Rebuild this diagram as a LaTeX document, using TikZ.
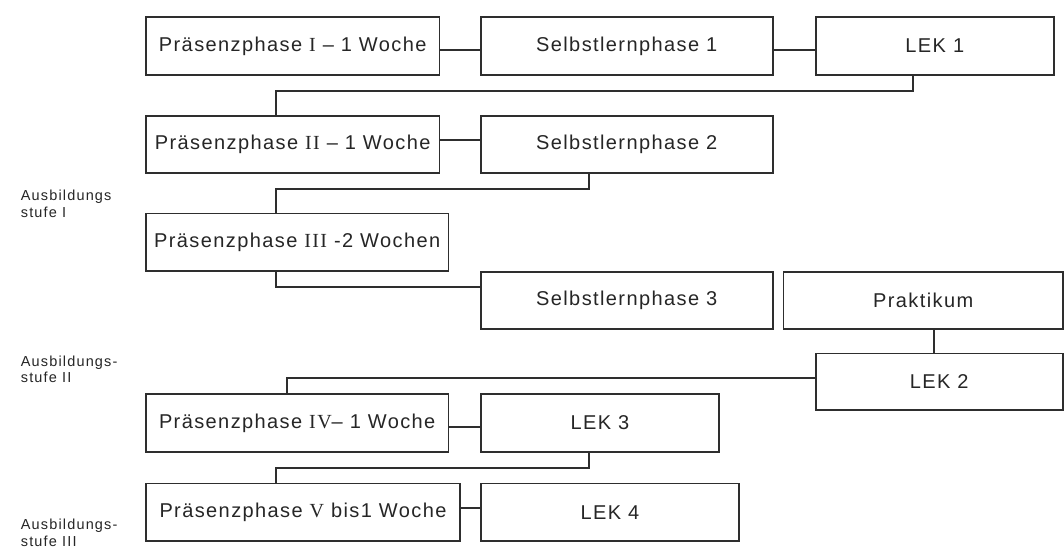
\documentclass[tikz,border=0pt]{standalone}
\usepackage{fontspec}
\setmainfont{Liberation Sans}
\newfontfamily\boxfont[LetterSpace=7]{Liberation Sans}
\newfontfamily\romfont[LetterSpace=7]{Liberation Serif}
\newfontfamily\lblfont[LetterSpace=8]{Liberation Sans}
\begin{document}
\begin{tikzpicture}[x=1pt,y=-1pt,
  box/.style={draw=black!82, line width=1.7pt, rectangle, inner sep=0pt, minimum height=57.5pt,
    font=\boxfont\fontsize{20}{24}\selectfont, text=black!85},
  conn/.style={draw=black!82, line width=1.7pt},
  lbl/.style={font=\lblfont\fontsize{14.5}{16.5}\selectfont, align=left, anchor=north west, inner sep=0pt, text=black!85}]
\fill[white] (0,0) rectangle (1064,554);
\useasboundingbox (0,0) rectangle (1064,554);

% boxes
\node[box, minimum width=293.3pt] (P1) at (292.7,46) {Präsenzphase {\romfont I} – 1 Woche};
\node[box, minimum width=292pt] (S1) at (626.7,46) {Selbstlernphase 1};
\node[box, minimum width=238.3pt] (L1) at (934.8,46) {LEK 1};
\node[box, minimum width=293.3pt] (P2) at (292.7,144.5) {Präsenzphase {\romfont II} – 1 Woche};
\node[box, minimum width=292pt] (S2) at (626.7,144.5) {Selbstlernphase 2};
\node[box, minimum width=302.3pt] (P3) at (297.2,242.2) {Präsenzphase {\romfont III} -2 Wochen};
\node[box, minimum width=292pt] (S3) at (626.7,300.4) {Selbstlernphase 3};
\node[box, minimum width=279.7pt] (PR) at (923.2,300.4) {Praktikum};
\node[box, minimum width=247pt, minimum height=56.7pt] (L2) at (939.2,381.7) {LEK 2};
\node[box, minimum width=302.3pt] (P4) at (297.2,423) {Präsenzphase {\romfont IV}– 1 Woche};
\node[box, minimum width=238.6pt] (L3) at (600,423) {LEK 3};
\node[box, minimum width=314pt] (P5) at (303,512.2) {Präsenzphase {\romfont V} bis1 Woche};
\node[box, minimum width=258.6pt] (L4) at (610,512.2) {LEK 4};

% labels
\node[lbl] (A1) at (20.7,190) {Ausbildungs\\stufe I};
\node[lbl] (A2) at (20.7,355.5) {Ausbildungs-\\stufe II};
\node[lbl] (A3) at (20.7,519) {Ausbildungs-\\stufe III};

% bend points
\coordinate (k1a) at (913.3,90.7);
\coordinate (k1b) at (275.7,90.7);
\coordinate (k2a) at (589.3,189);
\coordinate (k2b) at (275.7,189);
\coordinate (k3a) at (275.7,286.7);
\coordinate (k4a) at (286.7,377.7);
\coordinate (k5a) at (589.3,468.3);
\coordinate (k5b) at (275.7,468.3);
\coordinate (k6a) at (934,300);

% connectors
\draw[conn] ([yshift=-4pt]P1.east) -- ([yshift=-4pt]S1.west);
\draw[conn] ([yshift=-4pt]S1.east) -- ([yshift=-4pt]L1.west);
\draw[conn] (L1.south -| k1a) -- (k1a) -- (k1b) -- (P2.north -| k1b);
\draw[conn] ([yshift=4.5pt]P2.east) -- ([yshift=4.5pt]S2.west);
\draw[conn] (S2.south -| k2a) -- (k2a) -- (k2b) -- (P3.north -| k2b);
\draw[conn] (P3.south -| k3a) -- (k3a) -- (S3.west |- k3a);
\draw[conn] (PR.south -| k6a) -- (L2.north -| k6a);
\draw[conn] (L2.west |- k4a) -- (k4a) -- (P4.north -| k4a);
\draw[conn] ([yshift=-3.7pt]P4.east) -- ([yshift=-3.7pt]L3.west);
\draw[conn] (L3.south -| k5a) -- (k5a) -- (k5b) -- (P5.north -| k5b);
\draw[conn] ([yshift=4pt]P5.east) -- ([yshift=4pt]L4.west);
\end{tikzpicture}
\end{document}
